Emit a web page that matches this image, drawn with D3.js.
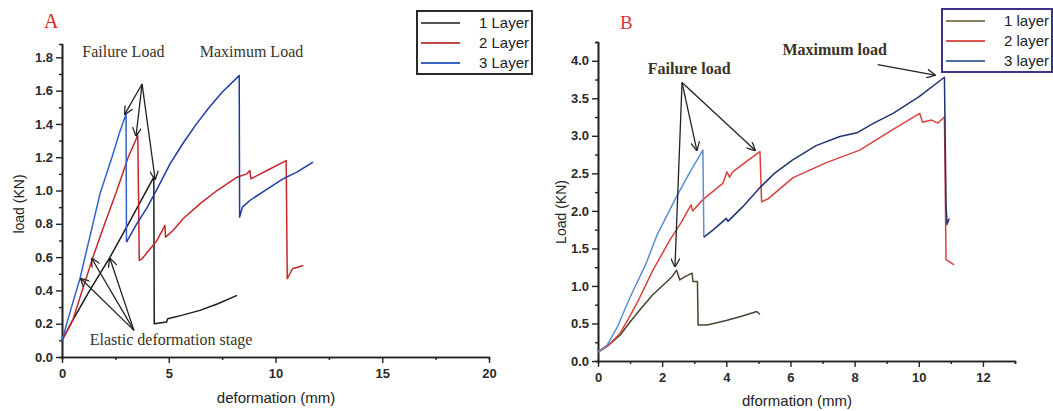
<!DOCTYPE html>
<html><head><meta charset="utf-8">
<script src="https://cdn.jsdelivr.net/npm/d3@7"></script>
<style>body{margin:0;background:#fff}svg{display:block}</style>
</head><body>
<svg id="c" width="1053" height="411"></svg>
<script>
// ---------- Panel A data (deformation mm, load kN) ----------
const aLayer1 = [[0,0.1],[0.5,0.22],[1.3,0.4],[2.25,0.6],[3.2,0.82],[4.3,1.08],[4.32,0.2],[4.9,0.21],[4.95,0.23],[5.6,0.25],[6.46,0.28],[7.3,0.32],[8.2,0.37]];
const aLayer2 = [[0,0.1],[0.5,0.22],[1.0,0.42],[1.45,0.6],[2.0,0.8],[2.57,1.0],[3.1,1.2],[3.55,1.33],[3.62,0.58],[3.75,0.59],[4.45,0.7],[4.82,0.79],[4.85,0.72],[5.2,0.76],[5.67,0.83],[6.46,0.92],[7.26,1.0],[8.2,1.08],[8.66,1.1],[8.8,1.12],[8.85,1.07],[9.6,1.12],[10.5,1.18],[10.55,0.47],[10.8,0.53],[11.3,0.55]];
const aLayer3a = [[0,0.1],[0.4,0.28],[0.84,0.47],[1.3,0.72],[1.78,0.98],[2.34,1.2],[2.7,1.35],[3.0,1.46],[3.02,0.69]];
const aLayer3b = [[3.02,0.69],[3.5,0.8],[4.0,0.9],[4.5,1.02],[5.06,1.16],[5.7,1.29],[6.3,1.4],[6.9,1.5],[7.5,1.59],[8.3,1.69],[8.32,0.84],[8.45,0.9],[8.8,0.94],[9.5,1.0],[10.35,1.07],[11.0,1.11],[11.76,1.17]];
const aXTicks = [0,5,10,15,20];
const aYTicks = [0,0.2,0.4,0.6,0.8,1.0,1.2,1.4,1.6,1.8];
const aLegend = ["1 Layer","2 Layer","3 Layer"];

// ---------- Panel B data ----------
const bLayer1 = [[0,0.12],[0.3,0.2],[0.7,0.35],[1.0,0.52],[1.3,0.68],[1.7,0.88],[2.0,1.0],[2.3,1.12],[2.45,1.21],[2.55,1.08],[2.7,1.12],[2.93,1.17],[2.96,1.06],[3.1,1.06],[3.12,0.48],[3.4,0.48],[4.0,0.54],[4.5,0.6],[4.95,0.66],[5.05,0.62]];
const bLayer2 = [[0,0.12],[0.3,0.2],[0.69,0.37],[1.0,0.6],[1.25,0.8],[1.7,1.2],[2.24,1.61],[2.6,1.85],[2.9,2.08],[2.95,2.0],[3.27,2.15],[3.9,2.37],[4.02,2.52],[4.1,2.45],[4.2,2.52],[4.6,2.65],[5.05,2.79],[5.1,2.12],[5.3,2.16],[6.07,2.44],[7.1,2.64],[8.16,2.81],[9.1,3.06],[10.03,3.3],[10.12,3.18],[10.4,3.21],[10.6,3.17],[10.8,3.25],[10.85,1.35],[11.1,1.28]];
const bLayer3a = [[0,0.12],[0.3,0.22],[0.6,0.45],[1.0,0.85],[1.5,1.3],[1.84,1.68],[2.2,1.98],[2.46,2.2],[2.87,2.52],[3.27,2.81],[3.3,1.65]];
const bLayer3b = [[3.3,1.65],[3.6,1.75],[4.0,1.9],[4.05,1.86],[4.5,2.05],[5.05,2.31],[5.5,2.5],[6.07,2.68],[6.8,2.87],[7.54,2.99],[8.07,3.04],[8.6,3.17],[9.2,3.3],[10.0,3.52],[10.8,3.78],[10.85,2.1],[10.88,1.82],[10.95,1.9]];
const bXTicks = [0,2,4,6,8,10,12];
const bYTicks = [0,0.5,1.0,1.5,2.0,2.5,3.0,3.5,4.0];
const bLegend = ["1  layer","2 layer","3 layer"];

const svg = d3.select("#c");
const serif = "'Liberation Serif','Times New Roman',serif";
const sans = "'Liberation Sans',Arial,sans-serif";

svg.append("defs").append("marker").attr("id","arr").attr("viewBox","0 0 10 10")
  .attr("refX",9).attr("refY",5).attr("markerWidth",9).attr("markerHeight",9)
  .attr("orient","auto-start-reverse").attr("markerUnits","userSpaceOnUse")
  .append("path").attr("d","M0,0 L10,5 L0,10").attr("fill","none").attr("stroke","#222").attr("stroke-width",1.4);

function panel(o){
  const x = d3.scaleLinear().domain(o.xd).range(o.xr);
  const y = d3.scaleLinear().domain(o.yd).range(o.yr);
  const g = svg.append("g");
  const xa = d3.axisBottom(x).tickValues(o.xMinor).tickSize(3).tickFormat("");
  g.append("g").attr("transform",`translate(0,${o.yr[0]})`).call(xa);
  const ya = d3.axisLeft(y).tickValues(o.yMinor).tickSize(3).tickFormat("");
  g.append("g").attr("transform",`translate(${o.xr[0]},0)`).call(ya);
  const xM = g.append("g").attr("transform",`translate(0,${o.yr[0]})`)
     .call(d3.axisBottom(x).tickValues(o.xTicks).tickSize(6).tickSizeOuter(0).tickFormat(d3.format("d")));
  const yM = g.append("g").attr("transform",`translate(${o.xr[0]},0)`)
     .call(d3.axisLeft(y).tickValues(o.yTicks).tickSize(6).tickSizeOuter(0).tickFormat(d3.format(".1f")));
  g.selectAll(".domain").attr("stroke","#222").attr("stroke-width",1.6);
  g.selectAll(".tick line").attr("stroke","#222").attr("stroke-width",1.4);
  g.selectAll(".tick text").attr("font-family",sans).attr("font-weight","bold").attr("font-size",13).attr("fill","#2a2a2a");
  xM.selectAll(".tick text").attr("dy","0.95em");
  const line = d3.line().x(d=>x(d[0])).y(d=>y(d[1]));
  o.series.forEach(s=>{
    g.append("path").attr("d",line(s.data)).attr("fill","none").attr("stroke",s.color).attr("stroke-width",s.w||1.5).attr("stroke-linejoin","round");
  });
  o.arrows.forEach(a=>{
    g.append("line").attr("x1",x(a[0][0])).attr("y1",y(a[0][1])).attr("x2",x(a[1][0])).attr("y2",y(a[1][1]))
     .attr("stroke","#222").attr("stroke-width",1.3).attr("marker-end","url(#arr)");
  });
  o.notes.forEach(n=>{
    g.append("text").attr("x",x(n.x)).attr("y",y(n.y)).text(n.t).attr("font-family",serif)
     .attr("font-weight",n.b?"bold":"normal").attr("font-size",n.s||14).attr("fill","#3a3326").attr("text-anchor","start");
  });
  return {x,y,g};
}

const A = panel({
  xd:[0,20], xr:[62,489], yd:[0,1.88], yr:[357,44],
  xTicks:aXTicks, yTicks:aYTicks,
  xMinor:[2.5,7.5,12.5,17.5], yMinor:[0.1,0.3,0.5,0.7,0.9,1.1,1.3,1.5,1.7],
  series:[{data:aLayer1,color:"#1c1c1c"},{data:aLayer2,color:"#c4262b"},{data:aLayer3a,color:"#2f62d0"},{data:aLayer3b,color:"#1f3aa6"}],
  arrows:[[[3.75,1.64],[2.95,1.46]],[[3.75,1.64],[3.47,1.33]],[[3.75,1.64],[4.36,1.07]],
          [[3.37,0.16],[0.89,0.47]],[[3.37,0.16],[1.4,0.59]],[[3.37,0.16],[2.25,0.59]]],
  notes:[{x:0.95,y:1.8,t:"Failure Load",s:16},{x:6.45,y:1.8,t:"Maximum  Load",s:16},{x:1.3,y:0.07,t:"Elastic deformation stage",s:16}]
});
const B = panel({
  xd:[0,13], xr:[598,1015], yd:[0,4.25], yr:[361,42],
  xTicks:bXTicks, yTicks:bYTicks,
  xMinor:[1,3,5,7,9,11,13], yMinor:[0.25,0.75,1.25,1.75,2.25,2.75,3.25,3.75,4.25],
  series:[{data:bLayer1,color:"#4a4330"},{data:bLayer2,color:"#d9423c"},{data:bLayer3a,color:"#5a8fd2"},{data:bLayer3b,color:"#1f356f"}],
  arrows:[[[2.62,3.71],[3.08,2.81]],[[2.62,3.71],[4.89,2.81]],[[2.62,3.71],[2.4,1.26]],[[8.72,3.95],[10.5,3.81]]],
  notes:[{x:1.55,y:3.83,t:"Failure load",s:16,b:true},{x:5.75,y:4.08,t:"Maximum load",s:16,b:true}]
});

// titles
svg.append("text").attr("x",44).attr("y",28).text("A").attr("font-family",serif).attr("font-size",20).attr("fill","#e0241c");
svg.append("text").attr("x",620).attr("y",29).text("B").attr("font-family",serif).attr("font-size",19).attr("fill","#d8343a");

// axis titles
svg.append("text").attr("x",276).attr("y",403).attr("text-anchor","middle").text("deformation (mm)")
  .attr("font-family",sans).attr("font-size",15).attr("fill","#222");
svg.append("text").attr("transform","translate(24,204) rotate(-90)").attr("text-anchor","middle").text("load (KN)")
  .attr("font-family",sans).attr("font-size",14).attr("fill","#222");
svg.append("text").attr("x",797).attr("y",406).attr("text-anchor","middle").text("dformation (mm)")
  .attr("font-family",sans).attr("font-size",15).attr("fill","#222");
svg.append("text").attr("transform","translate(566,212) rotate(-90)").attr("text-anchor","middle").text("Load (KN)")
  .attr("font-family",sans).attr("font-size",14).attr("fill","#222");

// legends
function legend(x0,y0,w,h,border,labels,colors,fs){
  const g = svg.append("g");
  g.append("rect").attr("x",x0).attr("y",y0).attr("width",w).attr("height",h).attr("fill","#fff").attr("stroke",border).attr("stroke-width",2);
  labels.forEach((l,i)=>{
    const yy = y0+12+i*20;
    g.append("line").attr("x1",x0+4).attr("x2",x0+43).attr("y1",yy).attr("y2",yy).attr("stroke",colors[i]).attr("stroke-width",1.8);
    g.append("text").attr("x",x0+w-3).attr("y",yy+5).attr("text-anchor","end").text(l)
      .attr("font-family",sans).attr("font-size",fs).attr("fill","#222");
  });
}
legend(417,11,115,63,"#2a2a2a",aLegend,["#555","#c24848","#3a64c4"],15);
legend(942,9,110,63,"#3d3388",bLegend,["#8a8060","#d9564e","#4a6fa8"],15);
</script>
</body></html>
